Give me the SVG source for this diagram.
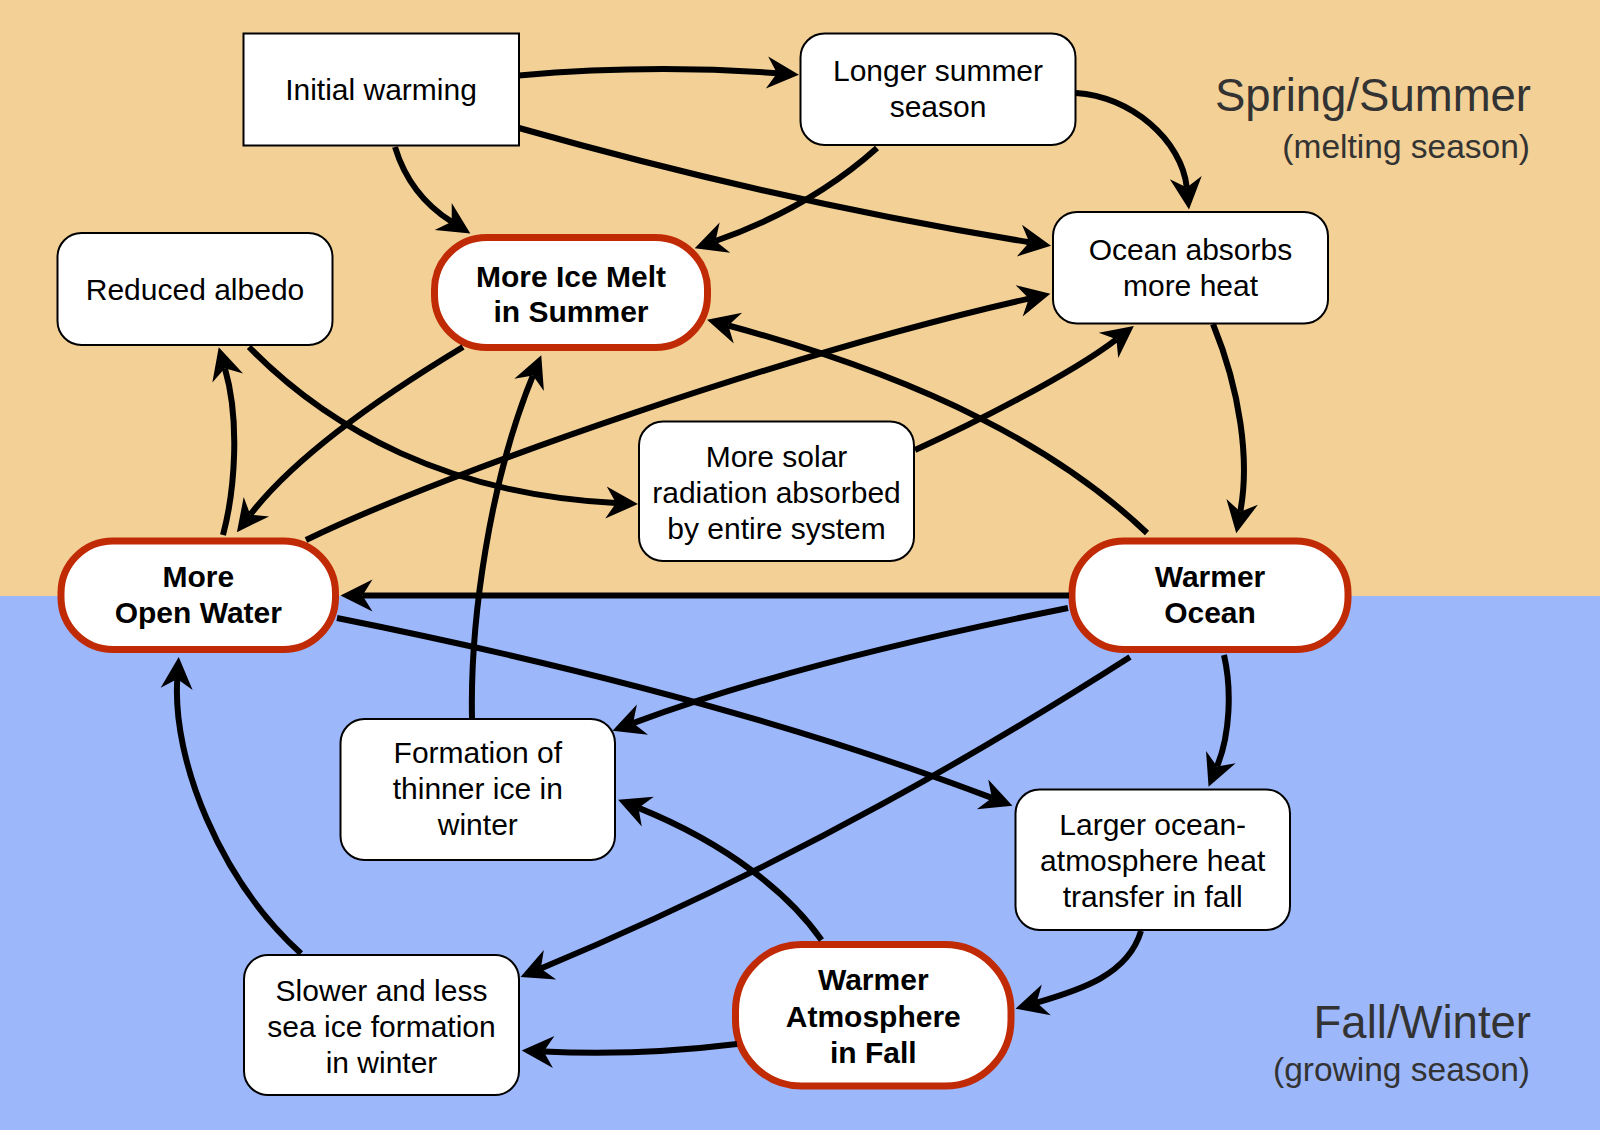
<svg xmlns="http://www.w3.org/2000/svg" width="1600" height="1130" viewBox="0 0 1600 1130">
<style>
.bx{fill:#fff;stroke:#000;stroke-width:2}
.hub{fill:#fff;stroke:#C02A05;stroke-width:7}
.t{font-family:"Liberation Sans",Arial,Helvetica,sans-serif;font-size:30px;fill:#000;text-anchor:middle}
.b{font-weight:bold}
.reg{font-family:"Liberation Sans",Arial,Helvetica,sans-serif;fill:#333;text-anchor:end}
.e{fill:none;stroke:#000;stroke-width:6;stroke-linecap:butt}
</style>
<defs>
<marker id="ah" markerUnits="userSpaceOnUse" viewBox="-12 -18 36 36" refX="0" refY="0" markerWidth="36" markerHeight="36" orient="auto">
<path d="M22,0 L-10,-16 L0,0 L-10,16 Z" fill="#000"/>
</marker>
</defs>
<rect x="0" y="0" width="1600" height="596" fill="#F2D096"/>
<rect x="0" y="596" width="1600" height="534" fill="#9DB7FB"/>
<g id="regions">
<text class="reg" x="1531" y="111" font-size="45.5">Spring/Summer</text>
<text class="reg" x="1530" y="157.5" font-size="33.5">(melting season)</text>
<text class="reg" x="1531" y="1038" font-size="45.5">Fall/Winter</text>
<text class="reg" x="1530" y="1081" font-size="33.5">(growing season)</text>
</g>
<g id="n-initial"><rect class="bx" x="243.5" y="33.5" width="275.5" height="112"/><text class="t" x="381" y="100">Initial warming</text></g>
<g id="n-longer"><rect class="bx" x="800.5" y="33.5" width="275" height="111.5" rx="24"/><text class="t" x="938" y="81">Longer summer</text><text class="t" x="938" y="117">season</text></g>
<g id="n-albedo"><rect class="bx" x="57.5" y="233" width="275" height="112" rx="24"/><text class="t" x="195" y="300">Reduced albedo</text></g>
<g id="n-icemelt"><rect class="hub" x="434.5" y="237.5" width="273" height="110" rx="52"/><text class="t b" x="571" y="286.5">More Ice Melt</text><text class="t b" x="571" y="322">in Summer</text></g>
<g id="n-oceanabs"><rect class="bx" x="1053" y="212" width="275" height="111.5" rx="24"/><text class="t" x="1190.5" y="259.5">Ocean absorbs</text><text class="t" x="1190.5" y="295.5">more heat</text></g>
<g id="n-solar"><rect class="bx" x="639" y="421.5" width="275" height="139.5" rx="24"/><text class="t" x="776.5" y="466.7">More solar</text><text class="t" x="776.5" y="502.7">radiation absorbed</text><text class="t" x="776.5" y="538.7">by entire system</text></g>
<g id="n-openwater"><rect class="hub" x="61" y="541" width="274.5" height="108.5" rx="52"/><text class="t b" x="198.3" y="587">More</text><text class="t b" x="198.3" y="623">Open Water</text></g>
<g id="n-warmocean"><rect class="hub" x="1072" y="541" width="276" height="108.5" rx="52"/><text class="t b" x="1210" y="587">Warmer</text><text class="t b" x="1210" y="623">Ocean</text></g>
<g id="n-thinner"><rect class="bx" x="340.5" y="719" width="274.5" height="141" rx="24"/><text class="t" x="477.8" y="763">Formation of</text><text class="t" x="477.8" y="799">thinner ice in</text><text class="t" x="477.8" y="835">winter</text></g>
<g id="n-larger"><rect class="bx" x="1015.5" y="789.5" width="274.5" height="140.5" rx="24"/><text class="t" x="1152.7" y="835">Larger ocean-</text><text class="t" x="1152.7" y="871">atmosphere heat</text><text class="t" x="1152.7" y="907">transfer in fall</text></g>
<g id="n-slower"><rect class="bx" x="244" y="955" width="275" height="140" rx="24"/><text class="t" x="381.5" y="1001">Slower and less</text><text class="t" x="381.5" y="1037">sea ice formation</text><text class="t" x="381.5" y="1073">in winter</text></g>
<g id="n-warmatm"><rect class="hub" x="735.5" y="944.6" width="275.5" height="141.4" rx="66"/><text class="t b" x="873.3" y="990">Warmer</text><text class="t b" x="873.3" y="1026.5">Atmosphere</text><text class="t b" x="873.3" y="1063">in Fall</text></g>
<g id="connectors">
<path class="e" marker-end="url(#ah)" d="M519,75.5 Q650,64 777,73.2"/>
<path class="e" marker-end="url(#ah)" d="M519,128 Q780,202 1029.3,242.2"/>
<path class="e" marker-end="url(#ah)" d="M395,147 C405,180 425,205 451.7,221.8"/>
<path class="e" marker-end="url(#ah)" d="M877,148 Q810,208 715.5,241"/>
<path class="e" marker-end="url(#ah)" d="M1076,93 C1130,96 1182,140 1186.8,187.6"/>
<path class="e" marker-end="url(#ah)" d="M249,347 C330,430 450,495 616,503"/>
<path class="e" marker-end="url(#ah)" d="M223,535 C235,490 240,420 224.9,368.3"/>
<path class="e" marker-end="url(#ah)" d="M463,347 C400,385 300,450 250.3,514.7"/>
<path class="e" marker-end="url(#ah)" d="M306,540 C450,470 800,350 1028.9,298.6"/>
<path class="e" marker-end="url(#ah)" d="M915,450 C970,425 1070,375 1116.4,339.3"/>
<path class="e" marker-end="url(#ah)" d="M1147,533 C1060,450 930,380 728.3,325.5"/>
<path class="e" marker-end="url(#ah)" d="M1213,324 C1240,390 1250,460 1240.3,511.7"/>
<path class="e" marker-end="url(#ah)" d="M1069,595.5 L362.5,595.5"/>
<path class="e" marker-end="url(#ah)" d="M472,718 C470,620 490,480 532.9,375.6"/>
<path class="e" marker-end="url(#ah)" d="M337,618 Q720,694.6 991.9,797.9"/>
<path class="e" marker-end="url(#ah)" d="M1068,608 Q798,662 633.1,723.1"/>
<path class="e" marker-end="url(#ah)" d="M1130,657 C1000,740 800,860 540.8,968.6"/>
<path class="e" marker-end="url(#ah)" d="M1224,655 C1232,690 1230,735 1217,766.4"/>
<path class="e" marker-end="url(#ah)" d="M1141,931 C1128,975 1080,990 1036.7,1002.6"/>
<path class="e" marker-end="url(#ah)" d="M821.5,940 C790,895 730,845 638.5,807.9"/>
<path class="e" marker-end="url(#ah)" d="M737,1044 Q640,1056 543.7,1051.5"/>
<path class="e" marker-end="url(#ah)" d="M301,953.5 C220,880 172,760 177.3,678.9"/>
</g>
</svg>
